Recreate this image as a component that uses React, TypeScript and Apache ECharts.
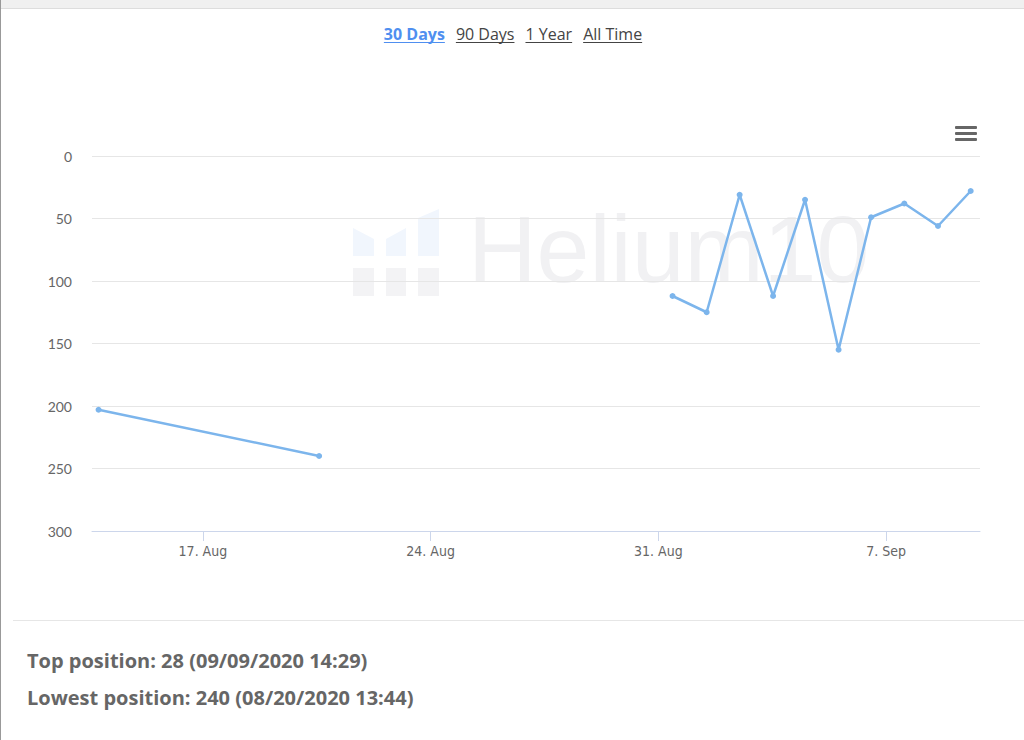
import React, { useEffect, useRef } from 'react';
import * as echarts from 'echarts';

// ---- data ----
const pointDates: string[] = [
  '2020-08-13T19:00', '2020-08-20T13:44', '2020-08-26T12:00',
  '2020-08-31T10:30', '2020-09-01T11:40', '2020-09-02T12:00',
  '2020-09-03T12:40', '2020-09-04T12:15', '2020-09-05T13:00',
  '2020-09-06T13:00', '2020-09-07T13:30', '2020-09-08T14:20',
  '2020-09-09T14:29',
];
const ranks: (number | null)[] = [203, 240, null, 112, 125, 31, 112, 35, 155, 49, 38, 56, 28];
const yTicks: number[] = [0, 50, 100, 150, 200, 250, 300];
const xTickDates: string[] = ['2020-08-17T00:00', '2020-08-24T00:00', '2020-08-31T00:00', '2020-09-07T00:00'];
const axisStart = '2020-08-13T14:10';
const axisEnd = '2020-09-09T21:20';
const monthNames: string[] = ['Jan', 'Feb', 'Mar', 'Apr', 'May', 'Jun', 'Jul', 'Aug', 'Sep', 'Oct', 'Nov', 'Dec'];
const rangeButtons: string[] = ['30 Days', '90 Days', '1 Year', 'All Time'];
const statLines: string[] = [
  'Top position: 28 (09/09/2020 14:29)',
  'Lowest position: 240 (08/20/2020 13:44)',
];
const watermarkText = 'Helium10';

const UI_FONT = '"Open Sans", Lato, sans-serif';
const AXIS_FONT = 'Lato, "Open Sans", sans-serif';

function measure(text: string, font: string): number {
  const c = document.createElement('canvas');
  const ctx = c.getContext('2d');
  if (!ctx) return text.length * 8;
  ctx.font = font;
  return ctx.measureText(text).width;
}

export default function App() {
  const ref = useRef<HTMLDivElement>(null);

  useEffect(() => {
    if (!ref.current) return;
    const chart = echarts.init(ref.current, undefined, { renderer: 'svg' });

    const seriesData = pointDates.map((d, i) => [new Date(d).getTime(), ranks[i] === null ? '-' : ranks[i]]);
    const tickValues = xTickDates.map((d) => new Date(d).getTime());

    // range buttons
    const btnFontSize = 16;
    const gap = 11;
    const fontOf = (i: number) => `${i === 0 ? 'bold' : 'normal'} ${btnFontSize}px ${UI_FONT}`;
    const widths = rangeButtons.map((t, i) => measure(t, fontOf(i)));
    const total = widths.reduce((a, b) => a + b, 0) + gap * (rangeButtons.length - 1);
    let bx = 513 - total / 2;
    const buttonEls: any[] = [];
    rangeButtons.forEach((t, i) => {
      const color = i === 0 ? '#4f8ff0' : '#444444';
      buttonEls.push({
        type: 'text',
        x: bx,
        y: 34,
        style: {
          text: t,
          fill: color,
          font: fontOf(i),
          verticalAlign: 'middle',
          align: 'left',
        },
      });
      buttonEls.push({
        type: 'line',
        shape: { x1: bx, y1: 42.5, x2: bx + widths[i], y2: 42.5 },
        style: { stroke: color, lineWidth: 1 },
      });
      bx += widths[i] + gap;
    });

    const statEls = statLines.map((t, i) => ({
      type: 'text',
      x: 27,
      y: 660 + i * 37,
      style: {
        text: t,
        fill: '#666666',
        font: `bold 20px ${UI_FONT}`,
        verticalAlign: 'middle',
        align: 'left',
      },
    }));

    const logoBlue = '#f1f6fd';
    const logoGray = '#f3f3f5';
    const watermark: any[] = [
      { type: 'polygon', z: -10, shape: { points: [[353, 228], [374, 239], [374, 256], [353, 256]] }, style: { fill: logoBlue } },
      { type: 'polygon', z: -10, shape: { points: [[386, 239], [406, 228], [406, 256], [386, 256]] }, style: { fill: logoBlue } },
      { type: 'polygon', z: -10, shape: { points: [[418, 218], [439, 209], [439, 256], [418, 256]] }, style: { fill: logoBlue } },
      { type: 'rect', z: -10, shape: { x: 353, y: 268, width: 21, height: 28 }, style: { fill: logoGray } },
      { type: 'rect', z: -10, shape: { x: 386, y: 268, width: 20, height: 28 }, style: { fill: logoGray } },
      { type: 'rect', z: -10, shape: { x: 418, y: 268, width: 21, height: 28 }, style: { fill: logoGray } },
      {
        type: 'text', z: -10, x: 468, y: 296,
        style: {
          text: watermarkText,
          fill: '#f1f1f3',
          font: '95px "Liberation Sans", Arial, sans-serif',
          verticalAlign: 'bottom',
          align: 'left',
        },
      },
    ];

    const frame: any[] = [
      { type: 'rect', shape: { x: 0, y: 0, width: 1024, height: 8 }, style: { fill: '#f0f0f0' } },
      { type: 'line', shape: { x1: 0, y1: 8.5, x2: 1024, y2: 8.5 }, style: { stroke: '#dddddd', lineWidth: 1 } },
      { type: 'line', shape: { x1: 0.5, y1: 0, x2: 0.5, y2: 740 }, style: { stroke: '#999999', lineWidth: 1 } },
      { type: 'line', shape: { x1: 13, y1: 620.5, x2: 1024, y2: 620.5 }, style: { stroke: '#e6e6e6', lineWidth: 1 } },
      { type: 'rect', shape: { x: 955, y: 126, width: 22, height: 3, r: 1 }, style: { fill: '#666666' } },
      { type: 'rect', shape: { x: 955, y: 132, width: 22, height: 3, r: 1 }, style: { fill: '#666666' } },
      { type: 'rect', shape: { x: 955, y: 138, width: 22, height: 3, r: 1 }, style: { fill: '#666666' } },
    ];

    chart.setOption({
      animation: false,
      backgroundColor: '#ffffff',
      grid: { left: 92, right: 44, top: 156, bottom: 209, containLabel: false },
      xAxis: {
        type: 'value',
        position: 'bottom',
        min: new Date(axisStart).getTime(),
        max: new Date(axisEnd).getTime(),
        axisLine: { show: true, onZero: false, lineStyle: { color: '#ccd6eb', width: 1 } },
        axisTick: { show: true, length: 10, lineStyle: { color: '#ccd6eb' }, customValues: tickValues },
        splitLine: { show: false },
        axisLabel: {
          customValues: tickValues,
          color: '#666666',
          fontSize: 14,
          fontFamily: '"Liberation Sans Narrow", "DejaVu Sans Condensed", sans-serif',
          margin: 13,
          formatter: (v: number) => {
            const d = new Date(v);
            return `${d.getDate()}. ${monthNames[d.getMonth()]}`;
          },
        },
      },
      yAxis: {
        type: 'value',
        inverse: true,
        min: yTicks[0],
        max: yTicks[yTicks.length - 1],
        interval: yTicks[1] - yTicks[0],
        axisLine: { show: false },
        axisTick: { show: false },
        splitLine: { show: true, lineStyle: { color: '#e6e6e6', width: 1 } },
        axisLabel: {
          color: '#666666',
          fontSize: 14,
          fontFamily: AXIS_FONT,
          margin: 20,
        },
      },
      graphic: [...frame, ...watermark, ...buttonEls, ...statEls],
      series: [
        {
          type: 'line',
          data: seriesData,
          connectNulls: false,
          symbol: 'circle',
          symbolSize: 6,
          showSymbol: true,
          lineStyle: { color: '#7cb5ec', width: 2.5 },
          itemStyle: { color: '#7cb5ec' },
          z: 5,
        },
      ],
    });

    return () => chart.dispose();
  }, []);

  return (
    <div
      ref={ref}
      style={{ position: 'absolute', left: 0, top: 0, width: 1024, height: 740 }}
    />
  );
}
